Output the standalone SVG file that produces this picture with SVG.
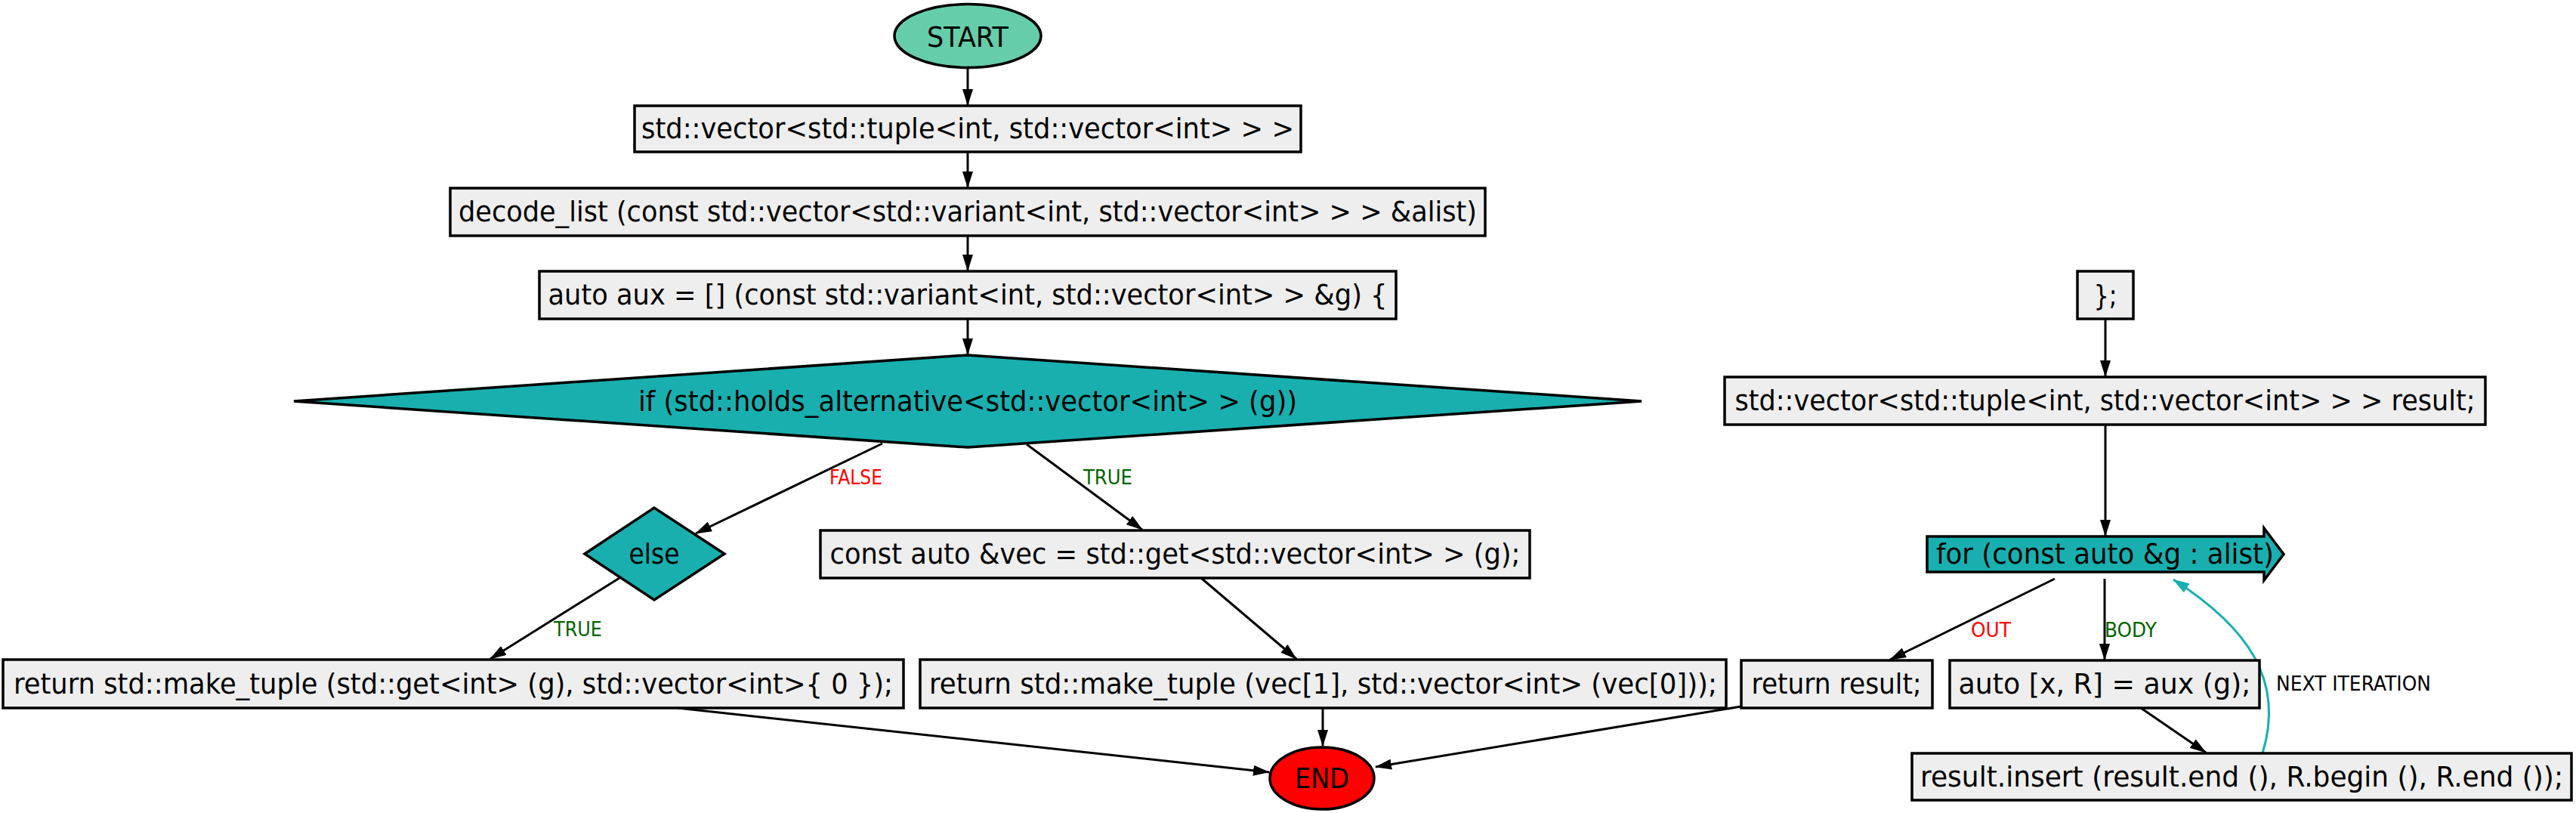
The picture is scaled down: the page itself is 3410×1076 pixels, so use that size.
<svg xmlns="http://www.w3.org/2000/svg" width="3410" height="1076" viewBox="0 0 3410 1076">
<style>
.bg{fill:#ffffff}
.box{fill:#eeeeee;stroke:#000;stroke-width:3.5}
.dec{fill:#19afaf;stroke:#000;stroke-width:3.5}
.t{font-family:"DejaVu Sans","Noto Sans",sans-serif;font-size:38px;fill:#000;text-anchor:middle}
.lbl{font-family:"DejaVu Sans","Noto Sans",sans-serif;font-size:26px}
.e{fill:none;stroke:#000;stroke-width:3;marker-end:url(#ah)}
.loop{fill:none;stroke:#19afaf;stroke-width:3;marker-end:url(#aht)}
</style>
<defs>
<marker id="ah" markerUnits="userSpaceOnUse" viewBox="0 0 22 14" refX="21" refY="7" markerWidth="22" markerHeight="14" orient="auto">
<path d="M0,0 L22,7 L0,14 Z" fill="#000"/>
</marker>
<marker id="aht" markerUnits="userSpaceOnUse" viewBox="0 0 22 14" refX="21" refY="7" markerWidth="22" markerHeight="14" orient="auto">
<path d="M0,0 L22,7 L0,14 Z" fill="#19afaf"/>
</marker>
</defs>
<rect class="bg" x="0" y="0" width="3410" height="1076"/>

<g id="connectors">
<path class="e" d="M1281,90 L1281,139"/>
<path class="e" d="M1281,201 L1281,248"/>
<path class="e" d="M1281,312 L1281,358"/>
<path class="e" d="M1281,422 L1281,469"/>
<path class="e" d="M1168,587 L921,706"/>
<path class="e" d="M1359,588 L1512,701"/>
<path class="e" d="M820,765 L649,872"/>
<path class="e" d="M1590,765 L1716,872"/>
<path class="e" d="M897,937 L1680,1022"/>
<path class="e" d="M1751,937 L1751,987"/>
<path class="e" d="M2305,935 L1821,1015"/>
<path class="e" d="M2787,422 L2787,498"/>
<path class="e" d="M2787,562 L2787,709"/>
<path class="e" d="M2720,766 L2502,873"/>
<path class="e" d="M2786,766 L2786,873"/>
<path class="e" d="M2834,937 L2920,996"/>
<path class="loop" d="M2995,997 C3025,900 2975,830 2877,767"/>
<text class="lbl" x="1098" y="641" fill="#ff0000" textLength="70" lengthAdjust="spacingAndGlyphs">FALSE</text>
<text class="lbl" x="1434" y="641" fill="#006400" textLength="65" lengthAdjust="spacingAndGlyphs">TRUE</text>
<text class="lbl" x="733" y="842" fill="#006400" textLength="64" lengthAdjust="spacingAndGlyphs">TRUE</text>
<text class="lbl" x="2609" y="843" fill="#ff0000" textLength="53" lengthAdjust="spacingAndGlyphs">OUT</text>
<text class="lbl" x="2786" y="843" fill="#006400" textLength="69" lengthAdjust="spacingAndGlyphs">BODY</text>
<text class="lbl" x="3013" y="914" fill="#000" textLength="205" lengthAdjust="spacingAndGlyphs">NEXT ITERATION</text>
</g>

<g id="start">
<ellipse cx="1281" cy="47.5" rx="97" ry="42" fill="#66cdaa" stroke="#000" stroke-width="3.5"/>
<text class="t" x="1281" y="62" font-size="39" textLength="108" lengthAdjust="spacingAndGlyphs">START</text>
</g>
<g id="n1">
<rect class="box" x="840" y="140" width="882" height="61"/>
<text class="t" x="1281" y="183" textLength="864" lengthAdjust="spacingAndGlyphs">std::vector&lt;std::tuple&lt;int, std::vector&lt;int&gt; &gt; &gt;</text>
</g>
<g id="n2">
<rect class="box" x="596" y="249" width="1370" height="63"/>
<text class="t" x="1281" y="293" textLength="1348" lengthAdjust="spacingAndGlyphs">decode_list (const std::vector&lt;std::variant&lt;int, std::vector&lt;int&gt; &gt; &gt; &amp;alist)</text>
</g>
<g id="n3">
<rect class="box" x="714" y="359" width="1134" height="63"/>
<text class="t" x="1281" y="403" textLength="1111" lengthAdjust="spacingAndGlyphs">auto aux = [] (const std::variant&lt;int, std::vector&lt;int&gt; &gt; &amp;g) {</text>
</g>
<g id="n4">
<polygon class="dec" points="389,531 1281,470 2173,531 1281,592"/>
<text class="t" x="1281" y="544" textLength="872" lengthAdjust="spacingAndGlyphs">if (std::holds_alternative&lt;std::vector&lt;int&gt; &gt; (g))</text>
</g>
<g id="n5">
<polygon class="dec" points="774,733 866,672 959,733 866,794"/>
<text class="t" x="866" y="746" textLength="67" lengthAdjust="spacingAndGlyphs">else</text>
</g>
<g id="n6">
<rect class="box" x="1086" y="702" width="939" height="63"/>
<text class="t" x="1555.5" y="746" textLength="914" lengthAdjust="spacingAndGlyphs">const auto &amp;vec = std::get&lt;std::vector&lt;int&gt; &gt; (g);</text>
</g>
<g id="n7">
<rect class="box" x="4" y="873" width="1192" height="64"/>
<text class="t" x="600" y="918" textLength="1164" lengthAdjust="spacingAndGlyphs">return std::make_tuple (std::get&lt;int&gt; (g), std::vector&lt;int&gt;{ 0 });</text>
</g>
<g id="n8">
<rect class="box" x="1218" y="873" width="1067" height="64"/>
<text class="t" x="1751.5" y="918" textLength="1043" lengthAdjust="spacingAndGlyphs">return std::make_tuple (vec[1], std::vector&lt;int&gt; (vec[0]));</text>
</g>
<g id="end">
<ellipse cx="1750" cy="1030" rx="69" ry="41" fill="#ff0000" stroke="#000" stroke-width="3.5"/>
<text class="t" x="1750" y="1043" textLength="72" lengthAdjust="spacingAndGlyphs">END</text>
</g>
<g id="n9">
<rect class="box" x="2750" y="359" width="74" height="63"/>
<text class="t" x="2787" y="404" textLength="31" lengthAdjust="spacingAndGlyphs">};</text>
</g>
<g id="n10">
<rect class="box" x="2283" y="499" width="1007" height="63"/>
<text class="t" x="2786.5" y="543" textLength="980" lengthAdjust="spacingAndGlyphs">std::vector&lt;std::tuple&lt;int, std::vector&lt;int&gt; &gt; &gt; result;</text>
</g>
<g id="n11">
<polygon class="dec" points="2551,710 2997,710 2997,699 3023,733.5 2997,768 2997,757 2551,757"/>
<text class="t" x="2563" y="746" style="text-anchor:start" textLength="447" lengthAdjust="spacingAndGlyphs">for (const auto &amp;g : alist)</text>
</g>
<g id="n12">
<rect class="box" x="2305" y="874" width="253" height="63"/>
<text class="t" x="2431" y="918" textLength="225" lengthAdjust="spacingAndGlyphs">return result;</text>
</g>
<g id="n13">
<rect class="box" x="2581" y="874" width="410" height="63"/>
<text class="t" x="2786" y="918" textLength="387" lengthAdjust="spacingAndGlyphs">auto [x, R] = aux (g);</text>
</g>
<g id="n14">
<rect class="box" x="2531" y="997" width="873" height="62"/>
<text class="t" x="2967.5" y="1041" textLength="851" lengthAdjust="spacingAndGlyphs">result.insert (result.end (), R.begin (), R.end ());</text>
</g>
</svg>
